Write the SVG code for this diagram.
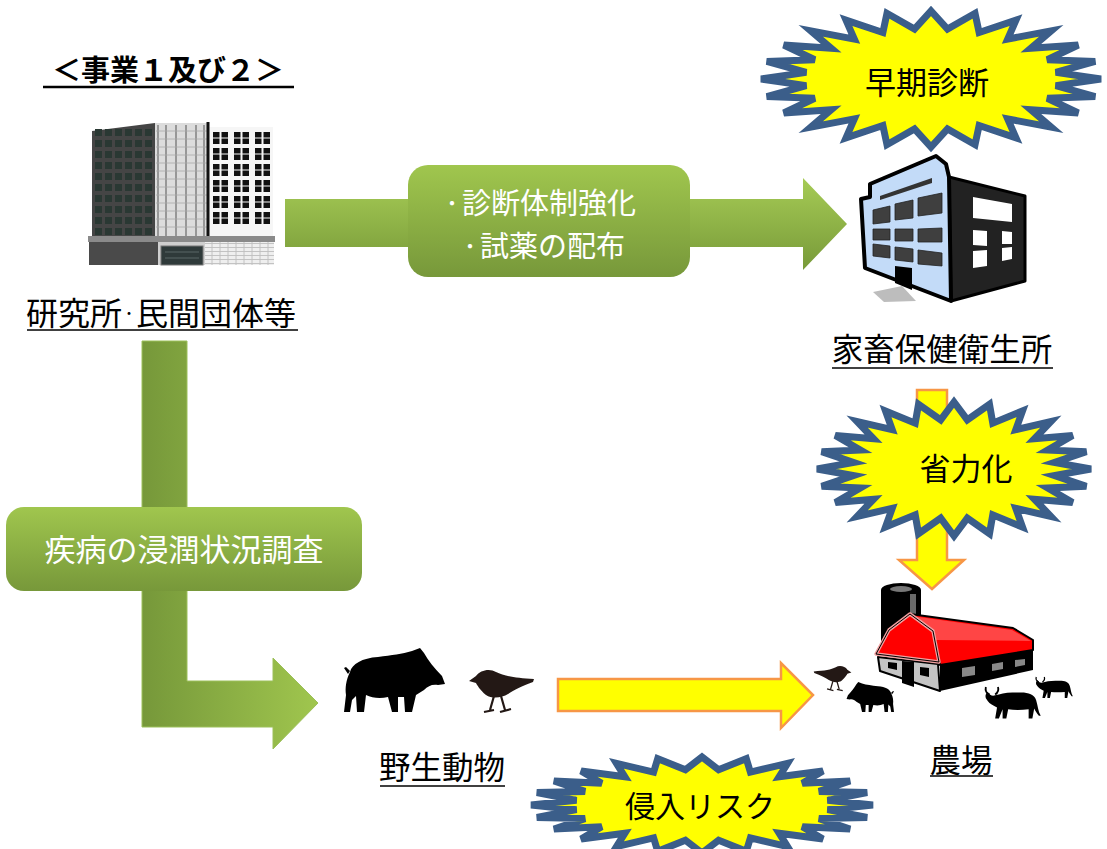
<svg xmlns="http://www.w3.org/2000/svg" xmlns:xlink="http://www.w3.org/1999/xlink" width="1107" height="849" viewBox="0 0 1107 849">
  <style>
    .jp { font-family: "Noto Sans CJK JP", "Noto Sans", sans-serif; }
    .label { font-size: 31.5px; fill: #000; }
    .boxtext { font-size: 29px; fill: #fff; }
    .bursttext { font-size: 31px; fill: #000; }
    .uline { stroke: #000; stroke-width: 1.6; }
    .burst { fill: #ffff00; stroke: #3b5e8a; stroke-width: 7; stroke-linejoin: miter; stroke-miterlimit: 4; }
    .yarrow { fill: #ffff00; stroke: #f79646; stroke-width: 2.5; stroke-linejoin: miter; }
    .sil { fill: #000; }
    .bird { fill: #231815; }
  </style>
  <defs>
    <linearGradient id="gBox" x1="0" y1="0" x2="0" y2="1">
      <stop offset="0" stop-color="#a0c64e"/>
      <stop offset="1" stop-color="#77983a"/>
    </linearGradient>
    <linearGradient id="gTopArrow" gradientUnits="userSpaceOnUse" x1="0" y1="178" x2="0" y2="270">
      <stop offset="0" stop-color="#a6cb55"/>
      <stop offset="1" stop-color="#789a39"/>
    </linearGradient>
    <linearGradient id="gLArrow" gradientUnits="userSpaceOnUse" x1="142" y1="0" x2="318" y2="0">
      <stop offset="0" stop-color="#76983a"/>
      <stop offset="1" stop-color="#a0c64e"/>
    </linearGradient>
    <pattern id="winWhite" patternUnits="userSpaceOnUse" x="213" y="132" width="21" height="16">
      <rect x="0" y="0" width="6.5" height="5.5" fill="#111"/>
      <rect x="8.5" y="0" width="6.5" height="5.5" fill="#111"/>
      <rect x="0" y="6.5" width="6.5" height="5.5" fill="#111"/>
      <rect x="8.5" y="6.5" width="6.5" height="5.5" fill="#111"/>
    </pattern>
    <pattern id="winDark" patternUnits="userSpaceOnUse" x="94" y="128" width="10" height="11">
      <rect x="1" y="1" width="7" height="7" fill="#2a3833"/>
    </pattern>
    <pattern id="brick" patternUnits="userSpaceOnUse" x="0" y="0" width="8" height="4">
      <rect width="8" height="4" fill="#efefef"/>
      <path d="M0 3.5 H8 M4 0 V3.5" stroke="#b8b8b8" stroke-width="0.8"/>
    </pattern>
    <!-- explosion outline, unit radius 100 -->
    <polygon id="burstShape" class="burst" vector-effect="non-scaling-stroke" points="100,0 73.4,9.7 96.6,25.9 68.4,28.3 86.6,50 58.7,45.1 70.7,70.7 45.1,58.7 50,86.6 28.3,68.4 25.9,96.6 9.7,73.4 0,100 -9.7,73.4 -25.9,96.6 -28.3,68.4 -50,86.6 -45.1,58.7 -70.7,70.7 -58.7,45.1 -86.6,50 -68.4,28.3 -96.6,25.9 -73.4,9.7 -100,0 -73.4,-9.7 -96.6,-25.9 -68.4,-28.3 -86.6,-50 -58.7,-45.1 -70.7,-70.7 -45.1,-58.7 -50,-86.6 -28.3,-68.4 -25.9,-96.6 -9.7,-73.4 0,-100 9.7,-73.4 25.9,-96.6 28.3,-68.4 50,-86.6 45.1,-58.7 70.7,-70.7 58.7,-45.1 86.6,-50 68.4,-28.3 96.6,-25.9 73.4,-9.7"/>
    <!-- wild boar silhouette, facing right -->
    <path id="boar" d="M6,24 C8,16 18,10 34,9 C48,7 58,6 68,3 L76,0 L80,5 C84,12 90,20 98,28 L101,36 L94,37 C88,36 84,38 80,42 L72,47 L68,64 L61,64 L60,49 L54,49 L54,64 L48,64 L44,49 C36,51 28,50 22,47 L20,64 L13,64 L12,48 L8,52 L6,64 L0,64 L2,47 C1,40 2,32 6,24 Z M4,26 L0,20 L2,19 L6,23 Z"/>
    <!-- small bird, facing left -->
    <g id="birdShape">
      <path d="M1,13 L8,8 C12,2 22,0 28,4 C36,8 47,10 66,11 L65,14 C54,18 46,22 40,26 C34,30 24,31 18,27 C12,22 9,17 8,15 Z"/>
      <path d="M26,28 L22,42 M33,28 L37,42 M16,44 L26,42 M32,44 L43,41" fill="none" stroke="#231815" stroke-width="2.2"/>
    </g>
    <!-- bull silhouette, facing left -->
    <g id="bull">
      <path d="M4,5 C6,9 9,10 12,9 L16,8 C22,6 30,6 40,6 C48,6 54,8 56,14 C58,20 58,26 61,31 L59,31 C56,27 55,25 54,23 L52,34 L48,34 L48,24 C40,25 32,25 26,24 L24,34 L20,34 L20,24 L16,34 L12,34 L14,22 C10,20 6,18 4,15 L2,12 C1,9 2,7 4,5 Z"/>
      <path d="M6,8 C3,7 1,4 2,0 M12,8 C15,6 16,3 15,0" fill="none" stroke="#000" stroke-width="2"/>
    </g>
  </defs>

  <rect width="1107" height="849" fill="#fff"/>

  <!-- connectors -->
  <g id="connectors">
    <polygon points="285,199 803,199 803,178 847,224 803,270 803,247 285,247" fill="url(#gTopArrow)"/>
    <polygon points="142,341 187,341 187,681 273,681 273,658 318,703 273,749 273,727 142,727" fill="url(#gLArrow)" stroke="#9cc05a" stroke-width="1"/>
    <polygon class="yarrow" points="558,679 781,679 781,663 813,695 781,728 781,711 558,711"/>
    <polygon class="yarrow" points="917,390 947,390 947,560 964,560 932,589 899,560 917,560"/>
  </g>

  <!-- heading -->
  <g id="heading">
    <text class="jp" x="168" y="81" style="font-size:29px;font-weight:700" text-anchor="middle">＜事業１及び２＞</text>
    <line x1="43" y1="87" x2="294" y2="87" stroke="#000" stroke-width="2.5"/>
  </g>

  <!-- research institute -->
  <g id="node-institute">
    <polygon points="92,131 155,123 155,240 92,240" fill="#454545"/>
    <rect x="94" y="128" width="60" height="110" fill="url(#winDark)"/>
    <rect x="155" y="123" width="53" height="117" fill="#dcdcdc"/>
    <path d="M158 125 V238 M166 125 V238 M176 125 V238 M186 125 V238 M196 125 V238 M204 125 V238" stroke="#6a6a6a" stroke-width="1.2"/>
    <path d="M156 131 H207 M156 139 H207 M156 147 H207 M156 155 H207 M156 163 H207 M156 171 H207 M156 179 H207 M156 187 H207 M156 195 H207 M156 203 H207 M156 211 H207 M156 219 H207 M156 227 H207" stroke="#a8a8a8" stroke-width="0.8"/>
    <rect x="208" y="127" width="65" height="113" fill="#f6f6f6"/>
    <rect x="213" y="132" width="60" height="94" fill="url(#winWhite)"/>
    <line x1="208" y1="122" x2="208" y2="241" stroke="#111" stroke-width="3"/>
    <rect x="88" y="236" width="187" height="6" fill="#8a8a8a"/>
    <rect x="89" y="242" width="69" height="23" fill="#4a4a4a"/>
    <rect x="205" y="242" width="69" height="23" fill="url(#brick)"/>
    <rect x="158" y="242" width="47" height="23" fill="#cfcfcf"/>
    <rect x="161" y="246" width="42" height="19" fill="#2f3a3a" stroke="#777" stroke-width="1"/>
    <path d="M165 252 H199 M165 258 H199" stroke="#5a6666" stroke-width="1"/>
  </g>
  <g id="label-institute">
    <text class="jp" x="26" y="325" style="font-size:32px">研究所</text>
    <text class="jp" x="122" y="318" style="font-size:14px">・</text>
    <text class="jp" x="136" y="325" style="font-size:32px">民間団体等</text>
    <line class="uline" x1="27" y1="330" x2="298" y2="330"/>
  </g>

  <!-- measure box on top arrow -->
  <g id="node-diagnosis">
    <rect x="408" y="165" width="282" height="112" rx="20" fill="url(#gBox)"/>
    <text class="jp" x="442" y="211" style="font-size:20px;fill:#fff">・</text>
    <text class="jp boxtext" x="462" y="214">診断体制強化</text>
    <text class="jp" x="460" y="254" style="font-size:20px;fill:#fff">・</text>
    <text class="jp boxtext" x="480" y="257">試薬の配布</text>
  </g>

  <!-- survey box on left arrow -->
  <g id="node-survey">
    <rect x="6" y="507" width="356" height="84" rx="18" fill="url(#gBox)"/>
    <text class="jp" x="184" y="561" style="font-size:31px;fill:#fff" text-anchor="middle">疾病の浸潤状況調査</text>
  </g>

  <!-- livestock hygiene service center -->
  <g id="node-center">
    <polygon points="873,292 902,286 916,301 884,302" fill="#bdbdbd"/>
    <polygon points="949,177 1025,196 1025,281 951,301" fill="#222" stroke="#000" stroke-width="3" stroke-linejoin="round"/>
    <polygon points="861,199 870,197 870,184 936,156 946,164 949,177 951,301 865,268" fill="#c3dbf8" stroke="#000" stroke-width="4" stroke-linejoin="round"/>
    <polygon points="880,196 932,178 932,183 880,200" fill="#333"/>
    <g fill="#3f3f3f" stroke="#222" stroke-width="0.8">
      <polygon points="873,210 890,206 890,222 873,224"/>
      <polygon points="895,204 913,200 913,218 895,220"/>
      <polygon points="918,198 942,193 942,213 918,216"/>
      <polygon points="873,229 890,229 890,240 873,240"/>
      <polygon points="895,229 913,229 913,241 895,241"/>
      <polygon points="918,229 942,228 942,242 918,242"/>
      <polygon points="873,244 890,246 890,258 873,256"/>
      <polygon points="895,247 913,249 913,262 895,260"/>
      <polygon points="918,250 942,253 942,266 918,264"/>
    </g>
    <polygon points="895,266 912,268 912,290 895,283" fill="#000"/>
    <g fill="#fff">
      <polygon points="973,197 1012,204 1012,222 973,218"/>
      <polygon points="973,230 987,231 987,246 973,245"/>
      <polygon points="1002,231 1012,232 1012,244 1002,244"/>
      <polygon points="973,251 987,250 987,266 973,268"/>
      <polygon points="1002,248 1012,247 1012,259 1002,261"/>
    </g>
  </g>
  <g id="label-center">
    <text class="jp label" x="942" y="361" text-anchor="middle">家畜保健衛生所</text>
    <line class="uline" x1="832" y1="368" x2="1053" y2="368"/>
  </g>

  <!-- wildlife -->
  <g id="node-wildlife">
    <use xlink:href="#boar" class="sil" transform="translate(344,648)"/>
    <use xlink:href="#birdShape" class="bird" transform="translate(468,668)"/>
  </g>
  <g id="label-wildlife">
    <text class="jp label" x="442" y="779" text-anchor="middle">野生動物</text>
    <line class="uline" x1="380" y1="786" x2="505" y2="786"/>
  </g>

  <!-- farm -->
  <g id="node-farm">
    <rect x="881" y="590" width="40" height="62" fill="#000"/>
    <ellipse cx="901" cy="590" rx="20" ry="7" fill="#000"/>
    <ellipse cx="901" cy="589" rx="11" ry="3" fill="#777"/>
    <rect x="910" y="594" width="6" height="50" fill="#6a6a6a"/>
    <polygon points="910,614 1013,628 1033,640 1033,650 940,665 933,632" fill="#ff0000" stroke="#000" stroke-width="2" stroke-linejoin="round"/>
    <polygon points="912,616 1012,630 1031,641 936,640 931,632" fill="#ff4545"/>
    <polygon points="940,665 1033,650 1033,670 940,691" fill="#000"/>
    <g fill="#888">
      <polygon points="962,668 975,666 975,675 962,677"/>
      <polygon points="992,664 1003,662 1003,669 992,671"/>
      <polygon points="1015,660 1025,659 1025,665 1015,667"/>
    </g>
    <polygon points="878,657 938,664 940,691 880,671" fill="#c4c4c4" stroke="#000" stroke-width="2" stroke-linejoin="round"/>
    <polygon points="902,661 914,662 914,687 902,683" fill="#000"/>
    <polygon points="888,662 897,663 897,670 888,668" fill="#000"/>
    <polygon points="920,667 929,668 929,677 920,675" fill="#000"/>
    <polygon points="876,654 889,630 910,614 933,631 939,662" fill="#ff0000" stroke="#f2a0a0" stroke-width="3.5" stroke-linejoin="round"/>
    <polygon points="876,654 889,630 910,614 933,631 939,662" fill="none" stroke="#000" stroke-width="1"/>
    <use xlink:href="#birdShape" class="bird" transform="translate(852,665) scale(-0.58,0.58)"/>
    <use xlink:href="#boar" class="sil" transform="translate(894,682) scale(-0.47,0.47)"/>
    <use xlink:href="#bull" class="sil" transform="translate(984,687) scale(0.93)"/>
    <use xlink:href="#bull" class="sil" transform="translate(1035,677) scale(0.62)"/>
  </g>
  <g id="label-farm">
    <text class="jp label" x="961" y="772" text-anchor="middle">農場</text>
    <line class="uline" x1="930" y1="776" x2="993" y2="776"/>
  </g>

  <!-- emphasis bursts -->
  <g id="burst-early">
    <use xlink:href="#burstShape" transform="translate(931,79) scale(1.7,0.68)"/>
    <text class="jp bursttext" x="927" y="94" text-anchor="middle">早期診断</text>
  </g>
  <g id="burst-labor">
    <use xlink:href="#burstShape" transform="translate(954,469) scale(1.37,0.67)"/>
    <text class="jp bursttext" x="966" y="480" text-anchor="middle">省力化</text>
  </g>
  <g id="burst-risk">
    <use xlink:href="#burstShape" transform="translate(702,805) scale(1.71,0.48)"/>
    <text class="jp" x="700" y="817" style="font-size:30px" text-anchor="middle">侵入リスク</text>
  </g>
</svg>
